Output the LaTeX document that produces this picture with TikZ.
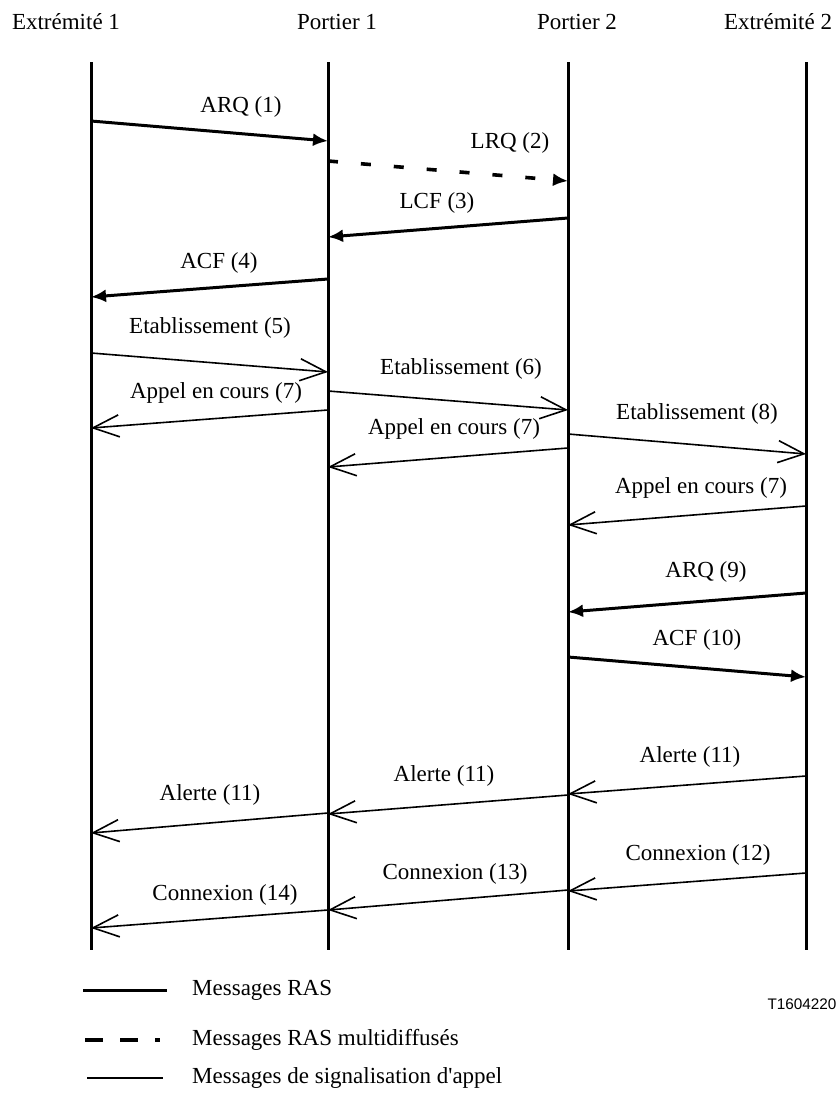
\documentclass[tikz,border=0pt]{standalone}
\usepackage{fontspec}
\setmainfont{Liberation Serif}
\newfontfamily\refsans{Liberation Sans}
\usetikzlibrary{arrows.meta}

\tikzset{
  lbl/.style={inner sep=0pt, font=\fontsize{23}{27}\selectfont},
  life/.style={line width=3pt},
  ras/.style={line width=3pt, -{Latex[length=15pt,width=13pt]}},
  rasmulti/.style={ras, line width=3.6pt, dash pattern=on 10pt off 23pt},
  sig/.style={line width=1.6pt, -{Straight Barb[length=26pt,width=22pt,line width=1.6pt]}}
}

\begin{document}
\begin{tikzpicture}[x=1pt,y=-1pt]
  \useasboundingbox (0,0) rectangle (839,1095);
  % lifelines
  \coordinate (l1) at (91,0);
  \coordinate (l2) at (328,0);
  \coordinate (l3) at (568,0);
  \coordinate (l4) at (806,0);
  \node[lbl] (ext1) at (66,22) {Extrémité 1};
  \node[lbl] (port1) at (337,22) {Portier 1};
  \node[lbl] (port2) at (577,22) {Portier 2};
  \node[lbl] (ext2) at (778,22) {Extrémité 2};
  \draw[life] (l1 |- 0,62) -- (l1 |- 0,950);
  \draw[life] (l2 |- 0,62) -- (l2 |- 0,950);
  \draw[life] (l3 |- 0,62) -- (l3 |- 0,950);
  \draw[life] (l4 |- 0,62) -- (l4 |- 0,950);
  % admission and location
  \draw[ras] (l1 |- 0,121) -- (l2 |- 0,141);
  \node[lbl] (m1) at (241,107) {ARQ (1)};
  \draw[rasmulti] (l2 |- 0,161) -- (l3 |- 0,181);
  \node[lbl] (m2) at (510,143) {LRQ (2)};
  \draw[ras] (l3 |- 0,218) -- (l2 |- 0,237);
  \node[lbl] (m3) at (437,203) {LCF (3)};
  \draw[ras] (l2 |- 0,279) -- (l1 |- 0,297);
  \node[lbl] (m4) at (219,263) {ACF (4)};
  % call setup
  \draw[sig] (l1 |- 0,353) -- (l2 |- 0,372);
  \node[lbl] (m5) at (210,328) {Etablissement (5)};
  \draw[sig] (l2 |- 0,391) -- (l3 |- 0,410);
  \node[lbl] (m6) at (461,369) {Etablissement (6)};
  \draw[sig] (l2 |- 0,410) -- (l1 |- 0,428);
  \node[lbl] (m7a) at (216,393) {Appel en cours (7)};
  \draw[sig] (l3 |- 0,448) -- (l2 |- 0,467);
  \node[lbl] (m7b) at (454,429) {Appel en cours (7)};
  \draw[sig] (l3 |- 0,434) -- (l4 |- 0,454);
  \node[lbl] (m8) at (697,414) {Etablissement (8)};
  \draw[sig] (l4 |- 0,506) -- (l3 |- 0,525);
  \node[lbl] (m7c) at (701,488) {Appel en cours (7)};
  % admission of the called end
  \draw[ras] (l4 |- 0,593) -- (l3 |- 0,612);
  \node[lbl] (m9) at (706,572) {ARQ (9)};
  \draw[ras] (l3 |- 0,657) -- (l4 |- 0,677);
  \node[lbl] (m10) at (697,640) {ACF (10)};
  % alerting and connect
  \draw[sig] (l4 |- 0,776) -- (l3 |- 0,794);
  \node[lbl] (m11a) at (690,757) {Alerte (11)};
  \draw[sig] (l3 |- 0,795) -- (l2 |- 0,814);
  \node[lbl] (m11b) at (444,776) {Alerte (11)};
  \draw[sig] (l2 |- 0,813) -- (l1 |- 0,833);
  \node[lbl] (m11c) at (210,795) {Alerte (11)};
  \draw[sig] (l4 |- 0,873) -- (l3 |- 0,891);
  \node[lbl] (m12) at (698,855) {Connexion (12)};
  \draw[sig] (l3 |- 0,890) -- (l2 |- 0,910);
  \node[lbl] (m13) at (455,874) {Connexion (13)};
  \draw[sig] (l2 |- 0,910) -- (l1 |- 0,928);
  \node[lbl] (m14) at (225,895) {Connexion (14)};
  % legend
  \node[lbl, anchor=west] (leg1) at (192,990) {Messages RAS};
  \node[lbl, anchor=west] (leg2) at (192,1040) {Messages RAS multidiffusés};
  \node[lbl, anchor=west] (leg3) at (192,1078) {Messages de signalisation d\textquotesingle appel};
  \draw[line width=3pt] ([xshift=-109pt]leg1.west) -- ([xshift=-25pt]leg1.west);
  \draw[line width=4pt, dash pattern=on 18pt off 17pt] ([xshift=-107pt]leg2.west) -- ([xshift=-32pt]leg2.west);
  \draw[line width=1.6pt] ([xshift=-105pt]leg3.west) -- ([xshift=-29pt]leg3.west);
  \node[inner sep=0pt, font=\refsans\fontsize{15.3}{18}\selectfont] (ref) at (802,1004) {T1604220};
\end{tikzpicture}
\end{document}
